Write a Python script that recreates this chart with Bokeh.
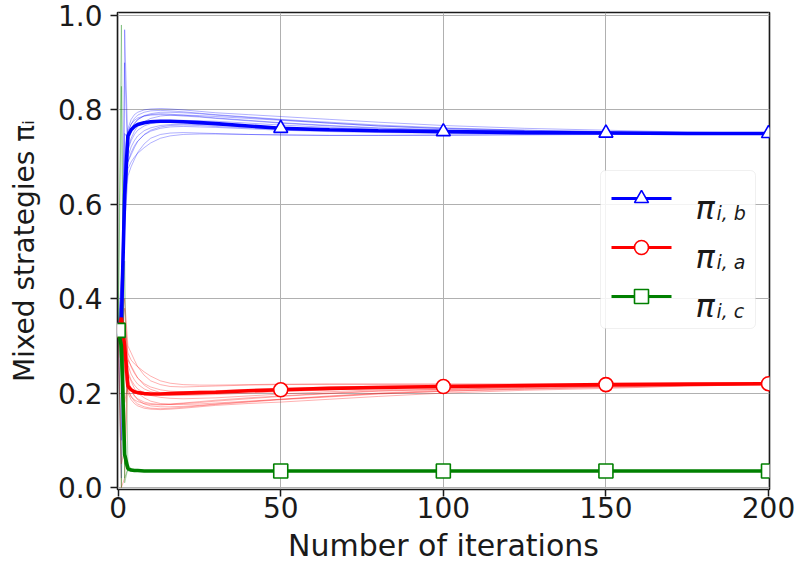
from bokeh.plotting import figure
from bokeh.models import Range1d, FixedTicker, BoxAnnotation, Label, NumeralTickFormatter
from bokeh.embed import file_html
from bokeh.resources import INLINE

# ---------------- data ----------------
ITERS = [0, 1, 2, 3, 4, 5, 6, 8, 10, 13, 16, 20, 25, 30, 40, 50, 65, 80, 100, 125, 150, 175, 200]
MARK_ITERS = [0, 50, 100, 150, 200]
X_TICKS = [0, 50, 100, 150, 200]
Y_TICKS = [0.0, 0.2, 0.4, 0.6, 0.8, 1.0]

# mean trajectories (thick lines)
PI_B = [0.333, 0.35, 0.62, 0.745, 0.758, 0.765, 0.769, 0.773, 0.775, 0.776, 0.776, 0.775, 0.773, 0.771, 0.766,
        0.761, 0.758, 0.756, 0.754, 0.752, 0.751, 0.750, 0.750]
PI_A = [0.333, 0.36, 0.30, 0.215, 0.207, 0.203, 0.201, 0.199, 0.198, 0.198, 0.199, 0.200, 0.201, 0.202, 0.205,
        0.207, 0.210, 0.212, 0.214, 0.216, 0.218, 0.219, 0.220]
PI_C = [0.333, 0.30, 0.07, 0.04, 0.037, 0.036, 0.036, 0.035, 0.035, 0.035, 0.035, 0.035, 0.035, 0.035, 0.035,
        0.035, 0.035, 0.035, 0.035, 0.035, 0.035, 0.035, 0.035]

# individual runs (thin lines)
RUNS_B = [
    [0.333, 0.30, 0.70, 0.76, 0.78, 0.79, 0.795, 0.80, 0.802, 0.803, 0.802, 0.80, 0.797, 0.794, 0.79, 0.786, 0.780, 0.774, 0.767, 0.761, 0.757, 0.753, 0.751],
    [0.333, 0.40, 0.55, 0.66, 0.68, 0.695, 0.71, 0.728, 0.74, 0.748, 0.751, 0.752, 0.751, 0.75, 0.748, 0.747, 0.746, 0.746, 0.746, 0.747, 0.748, 0.749, 0.749],
    [0.333, 0.02, 0.97, 0.72, 0.74, 0.755, 0.765, 0.775, 0.782, 0.787, 0.789, 0.789, 0.788, 0.786, 0.782, 0.778, 0.772, 0.766, 0.761, 0.757, 0.754, 0.752, 0.750],
    [0.333, 0.10, 0.90, 0.69, 0.705, 0.72, 0.733, 0.748, 0.757, 0.764, 0.767, 0.768, 0.767, 0.765, 0.762, 0.759, 0.756, 0.754, 0.753, 0.752, 0.751, 0.750, 0.750],
    [0.333, 0.45, 0.66, 0.75, 0.77, 0.782, 0.789, 0.795, 0.798, 0.799, 0.798, 0.796, 0.793, 0.79, 0.785, 0.78, 0.774, 0.768, 0.762, 0.757, 0.754, 0.752, 0.750],
    [0.333, 0.38, 0.58, 0.70, 0.722, 0.735, 0.745, 0.756, 0.762, 0.767, 0.769, 0.77, 0.769, 0.768, 0.765, 0.762, 0.758, 0.755, 0.753, 0.752, 0.751, 0.750, 0.750],
    [0.333, 0.32, 0.64, 0.73, 0.755, 0.77, 0.779, 0.788, 0.792, 0.795, 0.795, 0.794, 0.792, 0.789, 0.784, 0.779, 0.772, 0.766, 0.76, 0.756, 0.753, 0.751, 0.750],
    [0.333, 0.42, 0.60, 0.675, 0.69, 0.70, 0.708, 0.72, 0.73, 0.74, 0.745, 0.748, 0.749, 0.749, 0.748, 0.747, 0.746, 0.746, 0.747, 0.748, 0.749, 0.749, 0.750],
    [0.333, 0.36, 0.68, 0.755, 0.77, 0.778, 0.783, 0.787, 0.789, 0.79, 0.789, 0.787, 0.785, 0.782, 0.777, 0.772, 0.766, 0.761, 0.757, 0.754, 0.752, 0.751, 0.750],
    [0.333, 0.34, 0.62, 0.715, 0.735, 0.748, 0.757, 0.766, 0.771, 0.775, 0.777, 0.778, 0.777, 0.776, 0.772, 0.768, 0.763, 0.759, 0.756, 0.753, 0.752, 0.751, 0.750],
    [0.333, 0.28, 0.75, 0.74, 0.76, 0.772, 0.78, 0.787, 0.79, 0.792, 0.791, 0.789, 0.786, 0.783, 0.778, 0.773, 0.767, 0.762, 0.758, 0.755, 0.752, 0.751, 0.750],
    [0.333, 0.44, 0.57, 0.69, 0.71, 0.724, 0.734, 0.747, 0.755, 0.761, 0.764, 0.765, 0.764, 0.763, 0.76, 0.757, 0.754, 0.752, 0.751, 0.750, 0.750, 0.750, 0.750],
]
RUNS_A = [
    [0.333, 0.36, 0.24, 0.20, 0.186, 0.178, 0.173, 0.168, 0.166, 0.165, 0.166, 0.168, 0.171, 0.174, 0.178, 0.181, 0.187, 0.193, 0.2, 0.206, 0.21, 0.215, 0.218],
    [0.333, 0.35, 0.40, 0.30, 0.285, 0.27, 0.256, 0.238, 0.226, 0.218, 0.214, 0.213, 0.214, 0.215, 0.217, 0.218, 0.219, 0.219, 0.219, 0.219, 0.219, 0.22, 0.22],
    [0.333, 0.0, 0.02, 0.24, 0.225, 0.21, 0.2, 0.19, 0.183, 0.178, 0.176, 0.176, 0.177, 0.179, 0.183, 0.187, 0.193, 0.199, 0.204, 0.208, 0.212, 0.215, 0.218],
    [0.333, 0.05, 0.08, 0.27, 0.258, 0.245, 0.232, 0.217, 0.208, 0.201, 0.198, 0.197, 0.198, 0.2, 0.203, 0.206, 0.209, 0.211, 0.213, 0.215, 0.217, 0.218, 0.219],
    [0.333, 0.30, 0.28, 0.21, 0.193, 0.183, 0.177, 0.171, 0.168, 0.167, 0.168, 0.17, 0.173, 0.176, 0.181, 0.186, 0.192, 0.198, 0.204, 0.209, 0.213, 0.216, 0.219],
    [0.333, 0.34, 0.34, 0.26, 0.24, 0.228, 0.219, 0.209, 0.203, 0.198, 0.196, 0.195, 0.196, 0.197, 0.2, 0.203, 0.207, 0.21, 0.213, 0.215, 0.217, 0.218, 0.219],
    [0.333, 0.38, 0.30, 0.23, 0.208, 0.194, 0.186, 0.177, 0.173, 0.171, 0.171, 0.172, 0.174, 0.177, 0.182, 0.187, 0.194, 0.2, 0.206, 0.21, 0.214, 0.217, 0.219],
    [0.333, 0.33, 0.35, 0.285, 0.27, 0.262, 0.256, 0.245, 0.236, 0.226, 0.221, 0.218, 0.217, 0.217, 0.218, 0.219, 0.219, 0.219, 0.219, 0.219, 0.219, 0.22, 0.22],
    [0.333, 0.37, 0.25, 0.205, 0.192, 0.186, 0.182, 0.178, 0.176, 0.175, 0.176, 0.178, 0.18, 0.183, 0.188, 0.193, 0.199, 0.204, 0.208, 0.212, 0.215, 0.217, 0.219],
    [0.333, 0.36, 0.30, 0.245, 0.228, 0.217, 0.209, 0.2, 0.195, 0.191, 0.189, 0.188, 0.189, 0.19, 0.194, 0.198, 0.203, 0.207, 0.21, 0.213, 0.216, 0.218, 0.219],
    [0.333, 0.32, 0.18, 0.22, 0.205, 0.195, 0.188, 0.181, 0.178, 0.176, 0.177, 0.179, 0.182, 0.185, 0.19, 0.194, 0.2, 0.205, 0.208, 0.212, 0.215, 0.217, 0.219],
    [0.333, 0.33, 0.38, 0.275, 0.255, 0.242, 0.232, 0.22, 0.213, 0.207, 0.204, 0.203, 0.204, 0.205, 0.208, 0.21, 0.213, 0.215, 0.216, 0.217, 0.218, 0.219, 0.219],
]
RUNS_C = [
    [0.333, 0.34, 0.06, 0.04, 0.036, 0.035, 0.035, 0.035, 0.035, 0.035, 0.035, 0.035, 0.035, 0.035, 0.035, 0.035, 0.035, 0.035, 0.035, 0.035, 0.035, 0.035, 0.035],
    [0.333, 0.25, 0.05, 0.04, 0.037, 0.036, 0.035, 0.035, 0.035, 0.035, 0.035, 0.035, 0.035, 0.035, 0.035, 0.035, 0.035, 0.035, 0.035, 0.035, 0.035, 0.035, 0.035],
    [0.333, 0.98, 0.01, 0.04, 0.036, 0.035, 0.035, 0.035, 0.035, 0.035, 0.035, 0.035, 0.035, 0.035, 0.035, 0.035, 0.035, 0.035, 0.035, 0.035, 0.035, 0.035, 0.035],
    [0.333, 0.85, 0.02, 0.04, 0.037, 0.036, 0.035, 0.035, 0.035, 0.035, 0.035, 0.035, 0.035, 0.035, 0.035, 0.035, 0.035, 0.035, 0.035, 0.035, 0.035, 0.035, 0.035],
    [0.333, 0.25, 0.06, 0.04, 0.036, 0.035, 0.035, 0.035, 0.035, 0.035, 0.035, 0.035, 0.035, 0.035, 0.035, 0.035, 0.035, 0.035, 0.035, 0.035, 0.035, 0.035, 0.035],
    [0.333, 0.28, 0.08, 0.04, 0.037, 0.036, 0.035, 0.035, 0.035, 0.035, 0.035, 0.035, 0.035, 0.035, 0.035, 0.035, 0.035, 0.035, 0.035, 0.035, 0.035, 0.035, 0.035],
    [0.333, 0.30, 0.06, 0.04, 0.036, 0.035, 0.035, 0.035, 0.035, 0.035, 0.035, 0.035, 0.035, 0.035, 0.035, 0.035, 0.035, 0.035, 0.035, 0.035, 0.035, 0.035, 0.035],
    [0.333, 0.0, 0.48, 0.05, 0.038, 0.036, 0.035, 0.035, 0.035, 0.035, 0.035, 0.035, 0.035, 0.035, 0.035, 0.035, 0.035, 0.035, 0.035, 0.035, 0.035, 0.035, 0.035],
    [0.333, 0.27, 0.07, 0.04, 0.036, 0.035, 0.035, 0.035, 0.035, 0.035, 0.035, 0.035, 0.035, 0.035, 0.035, 0.035, 0.035, 0.035, 0.035, 0.035, 0.035, 0.035, 0.035],
    [0.333, 0.30, 0.08, 0.04, 0.037, 0.036, 0.035, 0.035, 0.035, 0.035, 0.035, 0.035, 0.035, 0.035, 0.035, 0.035, 0.035, 0.035, 0.035, 0.035, 0.035, 0.035, 0.035],
    [0.333, 0.40, 0.07, 0.04, 0.036, 0.035, 0.035, 0.035, 0.035, 0.035, 0.035, 0.035, 0.035, 0.035, 0.035, 0.035, 0.035, 0.035, 0.035, 0.035, 0.035, 0.035, 0.035],
    [0.333, 0.23, 0.05, 0.035, 0.035, 0.035, 0.035, 0.035, 0.035, 0.035, 0.035, 0.035, 0.035, 0.035, 0.035, 0.035, 0.035, 0.035, 0.035, 0.035, 0.035, 0.035, 0.035],
]

SERIES = [
    # (mean, runs, color, marker, subscript)
    (PI_B, RUNS_B, "#0000ff", "triangle", "i, b"),
    (PI_A, RUNS_A, "#ff0000", "circle", "i, a"),
    (PI_C, RUNS_C, "#008000", "square", "i, c"),
]

# ---------------- layout (page has no margin: canvas pixels == page pixels) ----------------
W, H = 799, 572
BL, BR, BT, BB = 117, 30, 12, 83
XS, XE = -0.2, 200.3
YS, YE = -0.0042, 1.0064
FL, FR, FT, FB = BL, W - BR, BT, H - BB
FONT = "DejaVu Sans"
INK = "#1a1a1a"


def px2x(px):
    return XS + (px - FL) / (FR - FL) * (XE - XS)


def py2y(py):
    return YS + (FB - py) / (FB - FT) * (YE - YS)


p = figure(width=W, height=H, output_backend="svg", toolbar_location=None,
           x_range=Range1d(XS, XE), y_range=Range1d(YS, YE),
           min_border_left=BL, min_border_right=BR, min_border_top=BT, min_border_bottom=BB,
           background_fill_color="white", border_fill_color="white")

p.outline_line_color = INK
p.outline_line_width = 1.6
p.grid.grid_line_color = "#b0b0b0"
p.grid.grid_line_width = 1

p.xaxis.ticker = FixedTicker(ticks=X_TICKS)
p.yaxis.ticker = FixedTicker(ticks=Y_TICKS)
p.yaxis.formatter = NumeralTickFormatter(format="0.0")
p.xaxis.axis_label = "Number of iterations"
p.yaxis.axis_label = "Mixed strategies \u03c0\u1d62"

for ax in (p.xaxis, p.yaxis):
    ax.axis_line_color = None
    ax.major_tick_line_color = INK
    ax.major_tick_line_width = 1.5
    ax.major_tick_in = 0
    ax.major_tick_out = 7
    ax.minor_tick_line_color = None
    ax.major_label_text_font = FONT
    ax.major_label_text_font_size = "28px"
    ax.major_label_text_color = INK
    ax.axis_label_text_font = FONT
    ax.axis_label_text_font_style = "normal"
    ax.axis_label_text_color = INK

p.xaxis.axis_label_text_font_size = "30px"
p.yaxis.axis_label_text_font_size = "28px"
p.xaxis.major_label_standoff = 0
p.xaxis.axis_label_standoff = 7
p.yaxis.major_label_standoff = 8
p.yaxis.axis_label_standoff = 14

# thin individual runs
for mean, runs, color, marker, sub in SERIES:
    for run in runs:
        p.line(ITERS, run, line_color=color, line_alpha=0.35, line_width=0.9)

# thick mean lines
for mean, runs, color, marker, sub in SERIES:
    p.line(ITERS, mean, line_color=color, line_width=3.6)

# markers every 50 iterations
mark_idx = [ITERS.index(m) for m in MARK_ITERS]
for mean, runs, color, marker, sub in SERIES:
    p.scatter([ITERS[i] for i in mark_idx], [mean[i] for i in mark_idx], marker=marker,
              size=14, fill_color="white", line_color=color, line_width=1.6)

# ---------------- legend (drawn by hand, page pixel layout) ----------------
p.add_layout(BoxAnnotation(left=px2x(600), right=px2x(755), top=py2y(170), bottom=py2y(328),
                           fill_color="white", fill_alpha=0.85, line_color="#cccccc",
                           line_width=1, border_radius=5))
ROW_Y = [198, 247, 296]
for (mean, runs, color, marker, sub), ry in zip(SERIES, ROW_Y):
    y0 = py2y(ry)
    p.line([px2x(611), px2x(671)], [y0, y0], line_color=color, line_width=3.2, level="overlay")
    p.scatter([px2x(641)], [y0], marker=marker, size=14, fill_color="white",
              line_color=color, line_width=1.6, level="overlay")
    p.add_layout(Label(x=px2x(695), y=py2y(ry + 9), text="\u03c0", text_font=FONT,
                       text_font_size="32px", text_font_style="italic", text_color=INK,
                       text_align="left", text_baseline="alphabetic", level="overlay"))
    p.add_layout(Label(x=px2x(716), y=py2y(ry + 14), text=sub, text_font=FONT,
                       text_font_size="19px", text_font_style="italic", text_color=INK,
                       text_align="left", text_baseline="alphabetic", level="overlay"))

open("out.html", "w").write(file_html(p, INLINE))
